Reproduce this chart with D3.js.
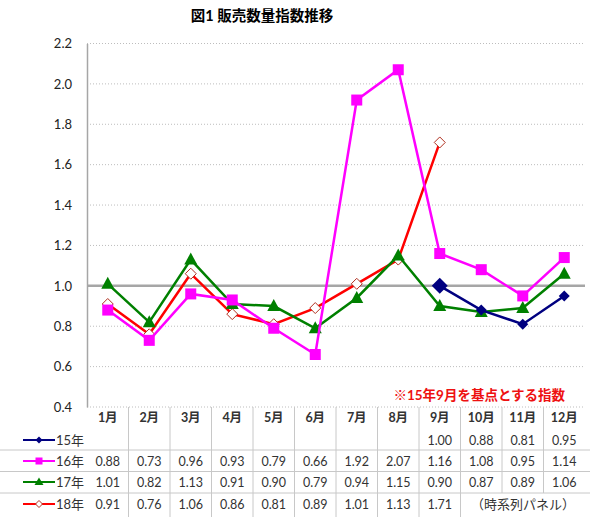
<!DOCTYPE html>
<html>
<head>
<meta charset="utf-8">
<script src="https://cdn.jsdelivr.net/npm/d3@7"></script>
<style>
  body { margin: 0; background: #fff; }
  svg { display: block; font-family: Lato, "Noto Sans CJK JP", sans-serif; }
</style>
</head>
<body>
<svg id="chart" width="590" height="527"></svg>
<script>
// chart data
const months = ['1月', '2月', '3月', '4月', '5月', '6月', '7月', '8月', '9月', '10月', '11月', '12月']
const yTicks = [0.4, 0.6, 0.8, 1.0, 1.2, 1.4, 1.6, 1.8, 2.0, 2.2]
const s15 = [null, null, null, null, null, null, null, null, 1.00, 0.88, 0.81, 0.95]
const s16 = [0.88, 0.73, 0.96, 0.93, 0.79, 0.66, 1.92, 2.07, 1.16, 1.08, 0.95, 1.14]
const s17 = [1.01, 0.82, 1.13, 0.91, 0.90, 0.79, 0.94, 1.15, 0.90, 0.87, 0.89, 1.06]
const s18 = [0.91, 0.76, 1.06, 0.86, 0.81, 0.89, 1.01, 1.13, 1.71, null, null, null]

const series = [
  { name: '15年', values: s15, color: '#000080', marker: 'diamond' },
  { name: '16年', values: s16, color: '#ff00ff', marker: 'square' },
  { name: '17年', values: s17, color: '#008000', marker: 'triangle' },
  { name: '18年', values: s18, color: '#ff0000', marker: 'hollow' },
]

const svg = d3.select('#chart')
const plotLeft = 87, plotRight = 585, plotTop = 43.5, plotBottom = 407

const x = d3.scaleBand().domain(months).range([plotLeft, plotRight])
const y = d3.scaleLinear().domain([0.4, 2.2]).range([plotBottom, plotTop])
const cx = (i) => x(months[i]) + x.bandwidth() / 2

// title
svg.append('text')
  .attr('x', 262).attr('y', 21)
  .attr('text-anchor', 'middle')
  .attr('font-size', 14.5).attr('font-weight', 'bold')
  .text('図1 販売数量指数推移')

// gridlines
svg.append('g').selectAll('line')
  .data(yTicks.filter(t => t !== 1.0))
  .join('line')
  .attr('x1', plotLeft).attr('x2', plotRight)
  .attr('y1', d => y(d)).attr('y2', d => y(d))
  .attr('stroke', '#bdbdbd').attr('stroke-width', 1)
  .attr('stroke-dasharray', '1,2')

svg.append('line')
  .attr('x1', plotLeft).attr('x2', plotRight)
  .attr('y1', y(1.0)).attr('y2', y(1.0))
  .attr('stroke', '#a6a6a6').attr('stroke-width', 2.5)

// y axis
const yAxis = svg.append('g')
  .attr('transform', `translate(${plotLeft},0)`)
  .call(d3.axisLeft(y).tickValues(yTicks).tickSize(0).tickPadding(15).tickFormat(d3.format('.1f')))
yAxis.select('.domain').attr('stroke', '#a6a6a6').attr('stroke-width', 1.5)
yAxis.selectAll('text')
  .attr('font-size', 13).attr('fill', '#222')
  .attr('font-family', 'Lato, sans-serif')

// note
svg.append('text')
  .attr('x', 565).attr('y', 400)
  .attr('text-anchor', 'end')
  .attr('font-size', 13.5).attr('font-weight', 'bold')
  .attr('fill', '#ee1111')
  .text('※15年9月を基点とする指数')

// series
function drawMarker(g, s, px, py, size) {
  if (s.marker === 'square') {
    g.append('rect').attr('x', px - 5.5).attr('y', py - 5.5)
      .attr('width', 11).attr('height', 11).attr('fill', s.color)
  } else if (s.marker === 'triangle') {
    g.append('path').attr('d', `M${px},${py - 7}L${px + 6.5},${py + 5}L${px - 6.5},${py + 5}Z`)
      .attr('fill', s.color)
  } else if (s.marker === 'diamond') {
    const r = size || 5.5
    g.append('path').attr('d', `M${px},${py - r}L${px + r},${py}L${px},${py + r}L${px - r},${py}Z`)
      .attr('fill', s.color)
  } else {
    g.append('path').attr('d', `M${px},${py - 5.5}L${px + 5.5},${py}L${px},${py + 5.5}L${px - 5.5},${py}Z`)
      .attr('fill', '#fff').attr('stroke', '#b03020').attr('stroke-width', 1)
  }
}

const line = d3.line()
  .defined(d => d.v !== null)
  .x(d => cx(d.i))
  .y(d => y(d.v))

const order = [series[3], series[2], series[1], series[0]]
order.forEach(s => {
  const pts = s.values.map((v, i) => ({ v, i }))
  const g = svg.append('g')
  g.append('path')
    .attr('d', line(pts))
    .attr('fill', 'none')
    .attr('stroke', s.color)
    .attr('stroke-width', 2.5)
  pts.filter(d => d.v !== null).forEach((d, k) => {
    const big = s.marker === 'diamond' && k === 0 ? 8 : null
    drawMarker(g, s, cx(d.i), y(d.v), big)
  })
})

// data table
const rowY = [418, 440, 461, 482, 504]
const sepY = [450, 471.5, 493]
const tableBottom = 517
const tbl = svg.append('g')

sepY.forEach(sy => {
  tbl.append('line').attr('x1', 0).attr('x2', 590)
    .attr('y1', sy).attr('y2', sy)
    .attr('stroke', '#c8c8c8').attr('stroke-width', 1)
})
months.forEach((m, i) => {
  if (i === 0) return
  const bx = x(m)
  const y2 = i >= 10 ? 493 : tableBottom
  tbl.append('line').attr('x1', bx).attr('x2', bx)
    .attr('y1', plotBottom).attr('y2', y2)
    .attr('stroke', '#c8c8c8').attr('stroke-width', 1)
})

tbl.selectAll('text.month')
  .data(months)
  .join('text')
  .attr('class', 'month')
  .attr('x', (d, i) => cx(i)).attr('y', rowY[0] + 4)
  .attr('text-anchor', 'middle')
  .attr('font-size', 12.5).attr('font-weight', 'bold').attr('fill', '#333')
  .text(d => d)

series.forEach((s, r) => {
  const ry = rowY[r + 1]
  // legend key
  tbl.append('line').attr('x1', 23).attr('x2', 55)
    .attr('y1', ry).attr('y2', ry)
    .attr('stroke', s.color).attr('stroke-width', 2)
  if (s.marker === 'square') {
    tbl.append('rect').attr('x', 35.5).attr('y', ry - 3.5).attr('width', 7).attr('height', 7).attr('fill', s.color)
  } else if (s.marker === 'triangle') {
    tbl.append('path').attr('d', `M39,${ry - 4.5}L43.5,${ry + 3}L34.5,${ry + 3}Z`).attr('fill', s.color)
  } else if (s.marker === 'diamond') {
    tbl.append('path').attr('d', `M39,${ry - 3.5}L42.5,${ry}L39,${ry + 3.5}L35.5,${ry}Z`).attr('fill', s.color)
  } else {
    tbl.append('path').attr('d', `M39,${ry - 3.5}L42.5,${ry}L39,${ry + 3.5}L35.5,${ry}Z`)
      .attr('fill', '#fff').attr('stroke', '#b03020').attr('stroke-width', 1)
  }
  tbl.append('text').attr('x', 56).attr('y', ry + 5)
    .attr('font-size', 13).attr('fill', '#333')
    .text(s.name)
  s.values.forEach((v, i) => {
    if (v === null) return
    tbl.append('text')
      .attr('x', cx(i)).attr('y', ry + 4.5)
      .attr('text-anchor', 'middle')
      .attr('font-size', 12.5).attr('fill', '#333')
      .text(d3.format('.2f')(v))
  })
})

tbl.append('text')
  .attr('x', 575).attr('y', rowY[4] + 5)
  .attr('text-anchor', 'end')
  .attr('font-size', 13).attr('fill', '#333')
  .text('（時系列パネル）')
</script>
</body>
</html>
